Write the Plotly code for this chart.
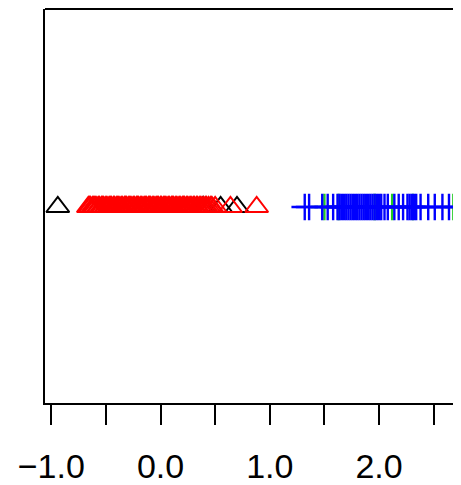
import plotly.graph_objects as go

# values
black_tri = [-0.94, 0.39, 0.55, 0.70]
red_tri = [-0.66, -0.65, -0.64, -0.62, -0.61, -0.60, -0.59, -0.57, -0.56, -0.54,
           -0.53, -0.52, -0.50, -0.49, -0.47, -0.46, -0.45, -0.43, -0.42, -0.40,
           -0.39, -0.38, -0.36, -0.35, -0.33, -0.32, -0.31, -0.29, -0.28, -0.27,
           -0.25, -0.24, -0.22, -0.21, -0.20, -0.18, -0.17, -0.15, -0.14, -0.13,
           -0.11, -0.10, -0.09, -0.07, -0.06, -0.04, -0.03, -0.02, 0.00, 0.01,
           0.03, 0.04, 0.05, 0.07, 0.08, 0.10, 0.11, 0.12, 0.14, 0.15, 0.17,
           0.18, 0.20, 0.21, 0.22, 0.24, 0.25, 0.27, 0.28, 0.30, 0.31, 0.33,
           0.34, 0.36, 0.37, 0.39, 0.41, 0.42, 0.44, 0.46, 0.47, 0.50, 0.64, 0.88]
blue_plus = [1.32, 1.36, 1.48, 1.53, 1.58, 1.62, 1.64, 1.66, 1.68, 1.70, 1.72,
             1.74, 1.76, 1.78, 1.80, 1.82, 1.84, 1.86, 1.88, 1.90, 1.92, 1.94,
             1.96, 1.98, 2.00, 2.02, 2.05, 2.08, 2.14, 2.18, 2.22, 2.26, 2.28,
             2.30, 2.32, 2.34, 2.38, 2.45, 2.51, 2.58, 2.64, 2.72]
green_plus = [1.50, 1.63, 1.96, 2.12, 2.31, 2.68]

tick_vals = [-1.0, -0.5, 0.0, 0.5, 1.0, 1.5, 2.0, 2.5]
tick_text = ["\u22121.0", "", "0.0", "", "1.0", "", "2.0", ""]

fig = go.Figure()

def tri(xs, color):
    fig.add_trace(go.Scatter(x=xs, y=[1] * len(xs), mode="markers",
                             marker=dict(symbol="triangle-up-open", size=20,
                                         color=color, line=dict(width=2, color=color)),
                             cliponaxis=False, hoverinfo="x"))

def plus(xs, color):
    fig.add_trace(go.Scatter(x=xs, y=[1] * len(xs), mode="markers",
                             marker=dict(symbol="cross-thin-open", size=19,
                                         color=color, line=dict(width=2.4, color=color)),
                             cliponaxis=True, hoverinfo="x"))

tri(black_tri, "black")
tri(red_tri, "red")
plus(green_plus, "#22cc22")
plus(blue_plus, "blue")

# the page body adds an 8px offset, so the figure is sized to fit inside it
fig.update_layout(
    width=453, height=477,
    margin=dict(l=37, r=0, t=1, b=82, autoexpand=False),
    paper_bgcolor="white", plot_bgcolor="white",
    showlegend=False,
    font=dict(family="Liberation Sans, Arial, sans-serif", color="black"),
    xaxis=dict(range=[-1.057, 2.75], tickvals=tick_vals, ticktext=tick_text,
               ticks="outside", ticklen=20, tickwidth=1.8, tickcolor="black",
               showline=True, linewidth=2, linecolor="black", mirror=False,
               showgrid=False, zeroline=False, tickfont=dict(size=34),
               ticklabelstandoff=12, automargin=False),
    yaxis=dict(range=[0.5025, 1.5025], showticklabels=False, ticks="",
               showline=True, linewidth=2, linecolor="black",
               showgrid=False, zeroline=False, automargin=False),
    shapes=[dict(type="line", xref="paper", yref="paper", x0=0, x1=1, y0=1, y1=1,
                 line=dict(color="black", width=2))],
)

fig.write_html("out.html")
